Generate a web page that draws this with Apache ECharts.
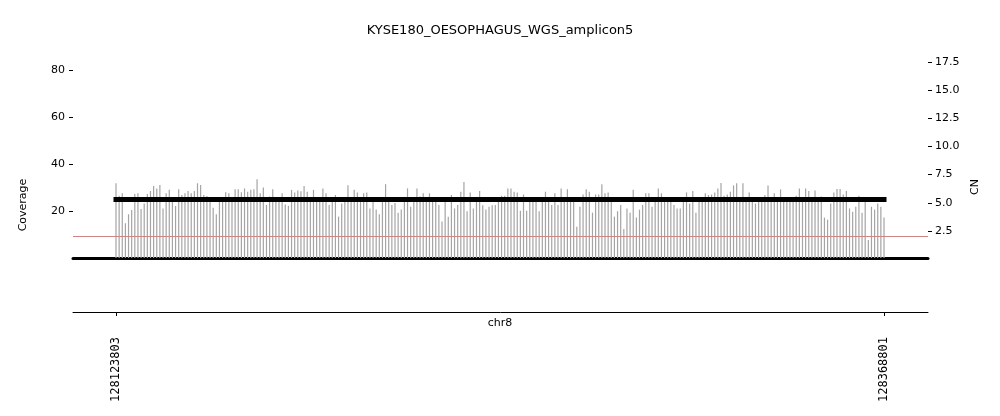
<!DOCTYPE html>
<html>
<head>
<meta charset="utf-8">
<script src="https://cdn.jsdelivr.net/npm/echarts@6/dist/echarts.min.js"></script>
<style>html,body{margin:0;padding:0;background:#fff}#c{width:1000px;height:416px}</style>
</head>
<body>
<div id="c"></div>
<script>
const title = 'KYSE180_OESOPHAGUS_WGS_amplicon5';
const chromName = 'chr8';
const startPos = 128123803;
const endPos = 128368801;
const xTickLabels = [128123803, 128368801];
const coverageTicks = [20, 40, 60, 80];
const cnTicks = [2.5, 5.0, 7.5, 10.0, 12.5, 15.0, 17.5];
const cnSegment = 5.3;
const cnBaseline = 2;
const coverage = [
  31.8, 26.5, 27.5, 14.8, 18.6, 20.4, 27.2, 27.5, 20.9, 23.2, 27.2, 28.5, 30.6, 29.6, 31.1, 21.1,
  27.5, 29, 25, 22.1, 29.2, 26.8, 27.5, 28.5, 27.5, 28.5, 31.8, 31.1, 26.8, 26.4, 25, 21.4,
  18.6, 25, 25.5, 28, 27.5, 25, 29.2, 29.2, 28, 29.6, 28.2, 29, 29.2, 33.5, 27.5,
  30, 22.6, 26.2, 29.2, 25, 25, 27.5, 22.8, 22.2, 29, 27.9, 28.7, 28.4, 30.6, 28.2, 25.3, 29, 25, 25.2, 29.6, 27.5,
  22.6, 24, 26.8, 17.6, 23.2, 25, 31, 25, 29, 27.9, 25, 27.5, 27.9, 21.1, 25, 20.6, 18.6, 25, 31.4, 25,
  22.6, 23.4, 19.3, 20.6, 26, 29.6, 21.8, 25, 29.6, 26.2, 27.5, 25, 27.5, 25, 25, 22.6,
  15.5, 25, 17.6, 26.8, 21.1, 22.6, 28.2, 32.3, 19.9, 27.9, 21.1, 25.5, 28.5, 22.4, 20.6, 21.8, 22.4, 22.6,
  25.8, 26.5, 26.5, 29.6, 29.6, 28.2, 27.9, 20.1, 27, 20.1, 25, 25, 25, 19.9, 25, 28.2, 25, 22.6,
  27.5, 22.6, 29.6, 25, 29.2, 25, 25, 13.3, 21.8, 27, 29.2, 28.2, 19.3, 27, 27, 31.4, 27.5, 27.9,
  25, 17.6, 19.9, 22.6, 12.3, 21.1, 19.3, 29, 17.2, 20.6, 22.6, 27.5, 27.5, 21.8, 25, 29.6, 27.5,
  25, 25, 25.5, 22.6, 21.1, 21.1, 25, 27.9, 23.2, 28.5, 19.3, 24.3, 25, 27.5, 26.8, 27, 27.9, 29.6,
  31.9, 26.5, 27, 28.2, 30.9, 31.8, 24.3, 31.8, 25, 27.9, 25, 23.2, 24, 25, 26.8, 30.9, 25,
  27.5, 24, 29.2, 25, 25, 25, 25, 26.5, 29.6, 25, 29.6, 28.5, 25, 28.7, 25.5, 26.2, 17.2, 16.3,
  23.2, 27.9, 29.4, 29.4, 27, 28.5, 21.1, 19.7, 21.8, 26.5, 19.3, 25, 7.7, 21.8, 20.6, 23.2, 21.8, 17.2
];

const n = coverage.length;
const step = (endPos - startPos) / (n - 1);
const barData = coverage.map((v, i) => [Math.round(startPos + i * step), v]);
const bpPerPx = (endPos - startPos) / 768;
const xMin = startPos - 43 * bpPerPx;
const xMax = endPos + 44 * bpPerPx;

const chart = echarts.init(document.getElementById('c'), null, {renderer: 'canvas'});
const font = 'DejaVu Sans';
chart.setOption({
  animation: false,
  backgroundColor: '#fff',
  title: {
    text: title, left: 'center', top: 19,
    textStyle: {fontFamily: font, fontSize: 13, fontWeight: 'normal', color: '#000'}
  },
  grid: [
    {left: 73, right: 72, top: 50, height: 208},
    {left: 73, right: 72, top: 270, height: 42}
  ],
  xAxis: [
    {gridIndex: 0, type: 'value', min: xMin, max: xMax,
     axisLine: {show: true, lineStyle: {color: '#000', width: 3}},
     axisTick: {show: false}, axisLabel: {show: false}, splitLine: {show: false}},
    {gridIndex: 1, type: 'value', min: xMin, max: xMax,
     axisLine: {show: true, lineStyle: {color: '#000', width: 1}},
     axisTick: {show: true, length: 4, customValues: xTickLabels, lineStyle: {color: '#000'}},
     axisLabel: {show: true, customValues: xTickLabels, rotate: 90, margin: 25,
       fontFamily: 'DejaVu Sans Mono', fontSize: 12, color: '#000',
       formatter: v => String(v)},
     splitLine: {show: false}}
  ],
  yAxis: [
    {gridIndex: 0, type: 'value', min: 0, max: 88.5, position: 'left',
     axisLine: {show: false},
     axisTick: {show: true, length: 4, customValues: coverageTicks, lineStyle: {color: '#000'}},
     axisLabel: {show: true, customValues: coverageTicks, margin: 8, fontFamily: font, fontSize: 11, color: '#000'},
     splitLine: {show: false}},
    {gridIndex: 0, type: 'value', min: 0.1, max: 18.55, position: 'right',
     axisLine: {show: false},
     axisTick: {show: true, length: 4, customValues: cnTicks, lineStyle: {color: '#000'}},
     axisLabel: {show: true, customValues: cnTicks, margin: 7, fontFamily: font, fontSize: 11, color: '#000',
       formatter: v => Number(v).toFixed(1)},
     splitLine: {show: false}},
    {gridIndex: 1, type: 'value', show: false, min: 0, max: 1}
  ],
  graphic: [
    {type: 'text', x: 23, y: 205, rotation: Math.PI / 2,
     style: {text: 'Coverage', fontFamily: font, fontSize: 11, fill: '#000', align: 'center', verticalAlign: 'middle'}},
    {type: 'text', x: 975, y: 187, rotation: Math.PI / 2,
     style: {text: 'CN', fontFamily: font, fontSize: 11, fill: '#000', align: 'center', verticalAlign: 'middle'}},
    {type: 'text', x: 500, y: 323,
     style: {text: chromName, fontFamily: font, fontSize: 11, fill: '#000', align: 'center', verticalAlign: 'middle'}}
  ],
  series: [
    {type: 'bar', xAxisIndex: 0, yAxisIndex: 0, data: barData, barWidth: 1.2,
     itemStyle: {color: '#a4a4a4'}, z: 2, silent: true},
    {type: 'line', xAxisIndex: 0, yAxisIndex: 1,
     data: [[startPos, cnSegment], [endPos, cnSegment]],
     symbol: 'none', lineStyle: {color: '#000', width: 5, cap: 'square'}, z: 4, silent: true,
     markLine: {silent: true, symbol: 'none', label: {show: false},
       lineStyle: {color: '#ff7070', width: 1, type: 'solid'},
       data: [{yAxis: cnBaseline}]}}
  ]
});
</script>
</body>
</html>
